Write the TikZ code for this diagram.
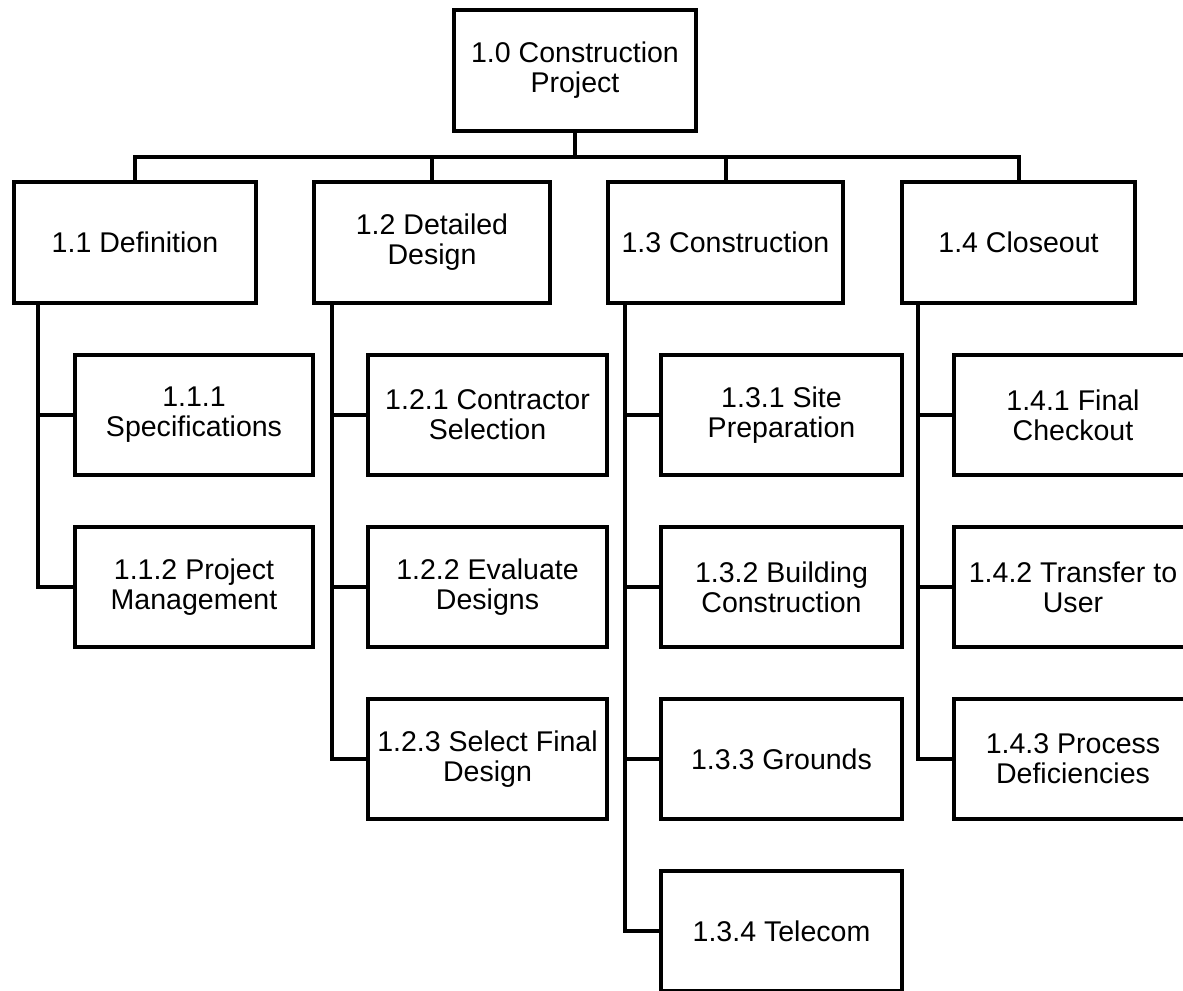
\documentclass[tikz,border=0pt]{standalone}
\usepackage{fontspec}
\setmainfont{Liberation Sans}
\begin{document}
\begin{tikzpicture}[x=0.75pt,y=-0.75pt,
  box/.style={draw=black,line width=3pt,fill=white,inner sep=0pt,align=center,
    font=\fontsize{21.4}{22.5}\selectfont},
  topbox/.style={box,minimum width=181.5pt,minimum height=90.75pt},
  lvlbox/.style={box,minimum height=90.75pt},
  kidbox/.style={box,minimum width=179.25pt,minimum height=90.5pt},
  wire/.style={line width=3pt,line join=miter}]
\useasboundingbox (0,0) rectangle (1183,991);

% nodes
\node[topbox] (top) at (575,70.5) {1.0 Construction\\Project};

\node[lvlbox,minimum width=181.5pt] (l11) at (135,242.5) {1.1 Definition};
\node[lvlbox,minimum width=177pt] (l12) at (432,242.5) {1.2 Detailed\\Design};
\node[lvlbox,minimum width=176.25pt] (l13) at (725.5,242.5) {1.3 Construction};
\node[lvlbox,minimum width=174.75pt] (l14) at (1018.5,242.5) {1.4 Closeout};

\node[kidbox,minimum width=178.5pt] (c111) at (194,415) {1.1.1\\Specifications};
\node[kidbox,minimum width=178.5pt] (c112) at (194,587) {1.1.2 Project\\Management};

\node[kidbox] (c121) at (487.5,415) {1.2.1 Contractor\\Selection};
\node[kidbox] (c122) at (487.5,587) {1.2.2 Evaluate\\Designs};
\node[kidbox] (c123) at (487.5,759) {1.2.3 Select Final\\Design};

\node[kidbox,minimum width=180.75pt] (c131) at (781.5,415) {1.3.1 Site\\Preparation};
\node[kidbox,minimum width=180.75pt] (c132) at (781.5,587) {1.3.2 Building\\Construction};
\node[kidbox,minimum width=180.75pt] (c133) at (781.5,759) {1.3.3 Grounds};
\node[kidbox,minimum width=180.75pt] (c134) at (781.5,931) {1.3.4 Telecom};

\node[kidbox,minimum width=178.5pt] (c141) at (1073,415) {1.4.1 Final\\Checkout};
\node[kidbox,minimum width=178.5pt] (c142) at (1073,587) {1.4.2 Transfer to\\User};
\node[kidbox,minimum width=178.5pt] (c143) at (1073,759) {1.4.3 Process\\Deficiencies};

% bus
\coordinate (bus) at (575,157);
\coordinate (s1) at (38,303);
\coordinate (s2) at (332,303);
\coordinate (s3) at (625,303);
\coordinate (s4) at (918,303);

\draw[wire] (top.south) -- (bus);
\draw[wire] (l11.north) |- (bus) -| (l14.north);
\draw[wire] (l12.north) -- (l12.north |- bus);
\draw[wire] (l13.north) -- (l13.north |- bus);

% spines
\draw[wire] (s1) |- (c112.west);
\draw[wire] (s1) |- (c111.west);

\draw[wire] (s2) |- (c123.west);
\draw[wire] (s2) |- (c122.west);
\draw[wire] (s2) |- (c121.west);

\draw[wire] (s3) |- (c134.west);
\draw[wire] (s3) |- (c133.west);
\draw[wire] (s3) |- (c132.west);
\draw[wire] (s3) |- (c131.west);

\draw[wire] (s4) |- (c143.west);
\draw[wire] (s4) |- (c142.west);
\draw[wire] (s4) |- (c141.west);
\end{tikzpicture}
\end{document}
